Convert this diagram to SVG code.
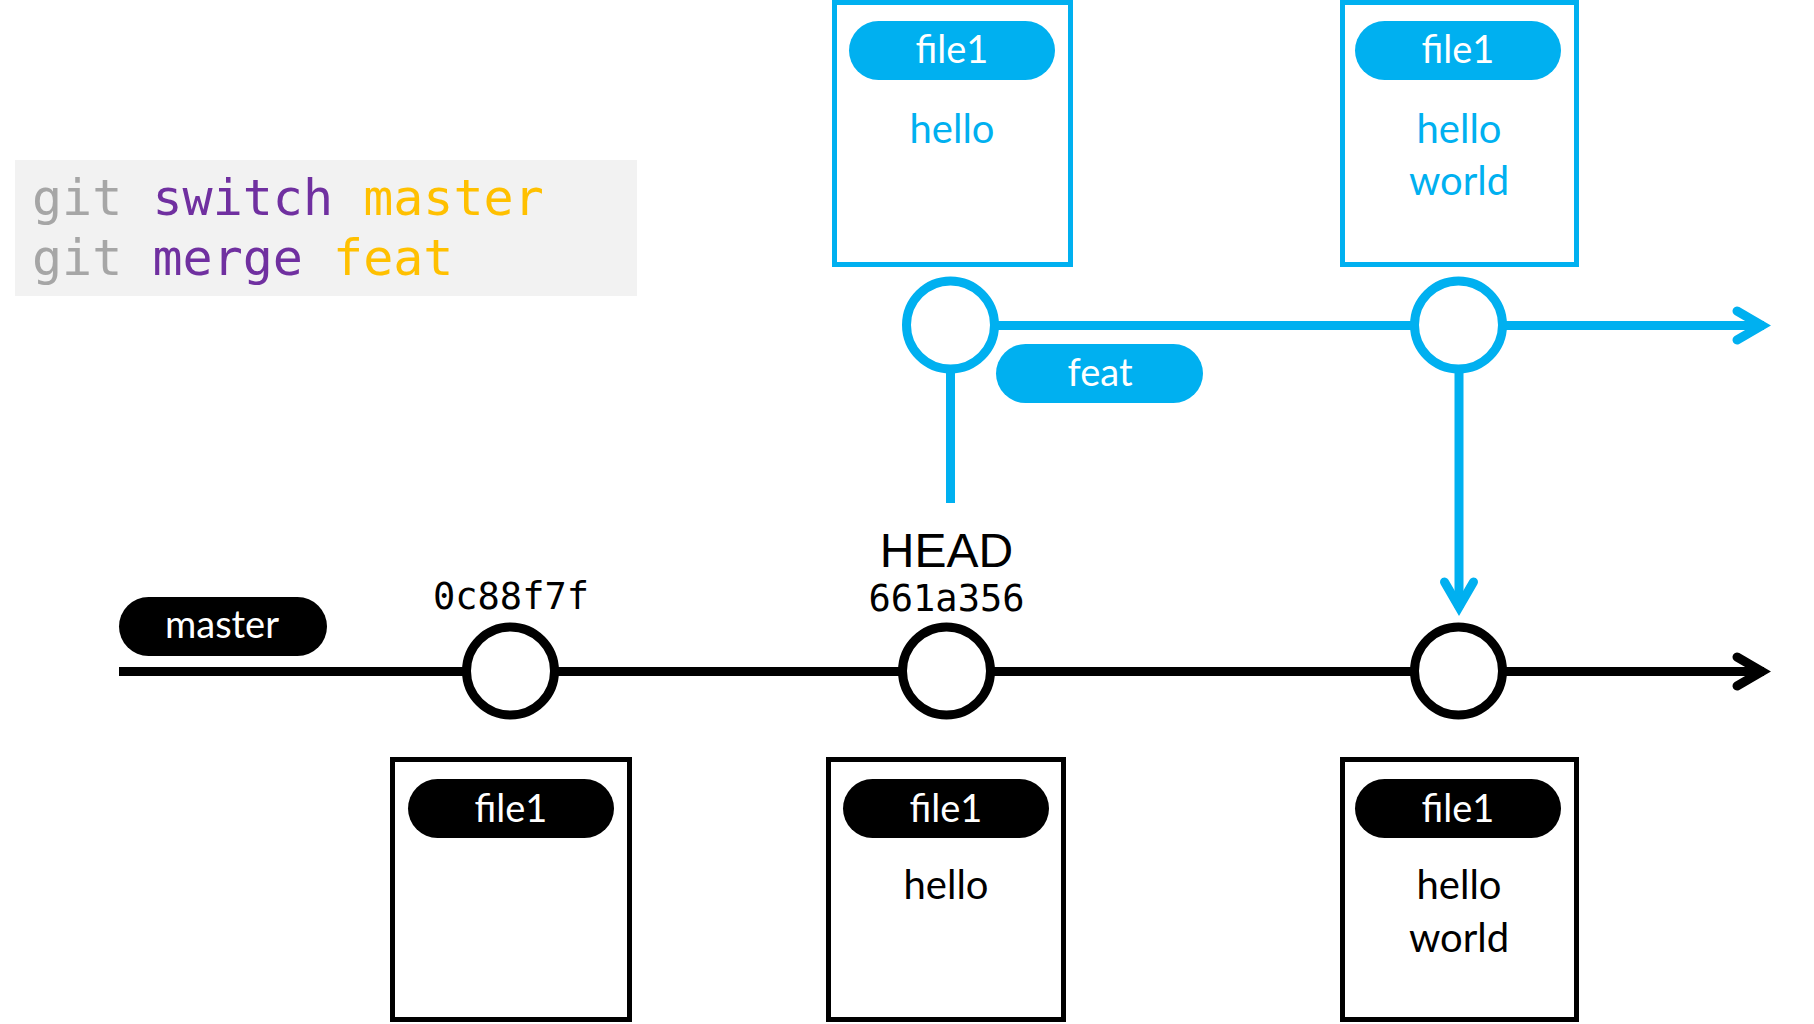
<svg xmlns="http://www.w3.org/2000/svg" width="1814" height="1024" viewBox="0 0 1814 1024">
<style>
.mono{font-family:"DejaVu Sans Mono","Liberation Mono",monospace}
.sans{font-family:Lato,"Open Sans","Liberation Sans",sans-serif}
.bbox{fill:none;stroke:#00b0f0;stroke-width:5}
.kbox{fill:none;stroke:#000;stroke-width:5}
.bpill{fill:#00b0f0}
.kpill{fill:#000}
.ptxt{fill:#fff;font-size:38px;text-anchor:middle}
.btxt{fill:#00b0f0;font-size:40px;text-anchor:middle}
.ktxt{fill:#000;font-size:40px;text-anchor:middle}
.bcirc{fill:#fff;stroke:#00b0f0;stroke-width:9}
.kcirc{fill:#fff;stroke:#000;stroke-width:9}
.bline{fill:none;stroke:#00b0f0;stroke-width:9}
.kline{fill:none;stroke:#000;stroke-width:9}
.head{fill:none;stroke-linecap:round;stroke-linejoin:miter;stroke-miterlimit:10}
.hash{fill:#000;font-size:37px;text-anchor:middle}
</style>
<rect width="1814" height="1024" fill="#fff"/>
<g id="command">
<rect x="15" y="160" width="622" height="136" fill="#f2f2f2"/>
<text class="mono" x="32" y="215" font-size="50"><tspan fill="#a6a6a6">git </tspan><tspan fill="#7030a0">switch </tspan><tspan fill="#ffc000">master</tspan></text>
<text class="mono" x="32" y="275" font-size="50"><tspan fill="#a6a6a6">git </tspan><tspan fill="#7030a0">merge </tspan><tspan fill="#ffc000">feat</tspan></text>
</g>
<g id="connectors">
<line class="bline" x1="994" y1="325.5" x2="1764" y2="325.5"/>
<polyline class="bline head" points="1737,311 1762,325.5 1737,340"/>
<line class="bline" x1="950.5" y1="370" x2="950.5" y2="503"/>
<line class="bline" x1="1459" y1="370" x2="1459" y2="608"/>
<polyline class="bline head" points="1444.5,582 1459,607 1473.5,582"/>
<line class="kline" x1="119" y1="671.5" x2="1764" y2="671.5"/>
<polyline class="kline head" points="1737,657 1762,671.5 1737,686"/>
</g>
<g id="feat-box-1">
<rect class="bbox" x="834.5" y="2.5" width="236" height="262"/>
<rect class="bpill" x="849" y="21" width="206" height="59" rx="29.5"/>
<text class="sans ptxt" x="952" y="63">file1</text>
<text class="sans btxt" x="952" y="143">hello</text>
</g>
<g id="feat-box-2">
<rect class="bbox" x="1342.5" y="2.5" width="234" height="262"/>
<rect class="bpill" x="1355" y="21" width="206" height="59" rx="29.5"/>
<text class="sans ptxt" x="1458" y="63">file1</text>
<text class="sans btxt" x="1459" y="143">hello</text>
<text class="sans btxt" x="1459" y="195">world</text>
</g>
<g id="feat-commit-1"><circle class="bcirc" cx="950.5" cy="325" r="44"/></g>
<g id="feat-commit-2"><circle class="bcirc" cx="1458.5" cy="325" r="44"/></g>
<g id="feat-label">
<rect class="bpill" x="996" y="344" width="207" height="59" rx="29.5"/>
<text class="sans ptxt" x="1100" y="386">feat</text>
</g>
<g id="master-label">
<rect class="kpill" x="119" y="597" width="208" height="59" rx="29.5"/>
<text class="sans ptxt" x="222" y="638">master</text>
</g>
<g id="commit-0c88f7f">
<text class="mono hash" x="511" y="609">0c88f7f</text>
<circle class="kcirc" cx="510.5" cy="671" r="44"/>
</g>
<g id="commit-661a356">
<text x="946.5" y="567" font-family="Liberation Sans, Arial, sans-serif" font-size="48" text-anchor="middle" fill="#000">HEAD</text>
<text class="mono hash" x="946.5" y="611">661a356</text>
<circle class="kcirc" cx="946.5" cy="671" r="44"/>
</g>
<g id="commit-merge"><circle class="kcirc" cx="1458.5" cy="671" r="44"/></g>
<g id="master-box-1">
<rect class="kbox" x="392.5" y="759.5" width="237" height="260"/>
<rect class="kpill" x="408" y="779" width="206" height="59" rx="29.5"/>
<text class="sans ptxt" x="511" y="822">file1</text>
</g>
<g id="master-box-2">
<rect class="kbox" x="828.5" y="759.5" width="235" height="260"/>
<rect class="kpill" x="843" y="779" width="206" height="59" rx="29.5"/>
<text class="sans ptxt" x="946" y="822">file1</text>
<text class="sans ktxt" x="946" y="899">hello</text>
</g>
<g id="master-box-3">
<rect class="kbox" x="1342.5" y="759.5" width="234" height="260"/>
<rect class="kpill" x="1355" y="779" width="206" height="59" rx="29.5"/>
<text class="sans ptxt" x="1458" y="822">file1</text>
<text class="sans ktxt" x="1459" y="899">hello</text>
<text class="sans ktxt" x="1459" y="952">world</text>
</g>
</svg>
